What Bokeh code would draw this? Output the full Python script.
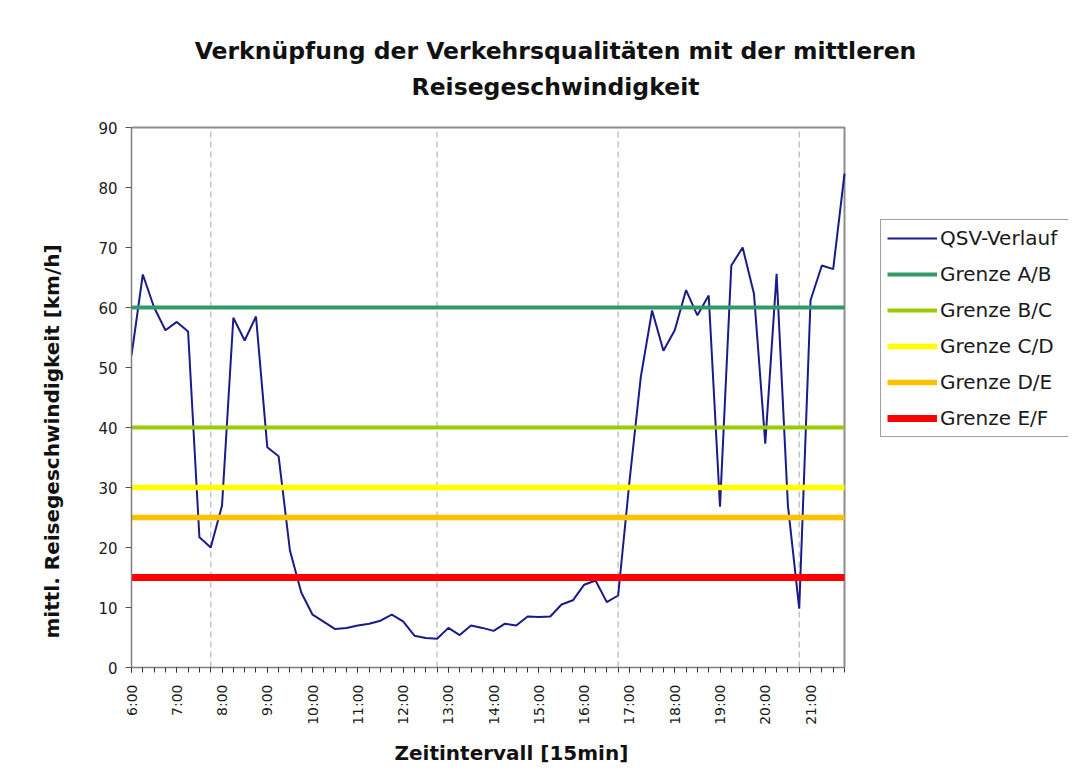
from math import pi
from bokeh.plotting import figure
from bokeh.models import Range1d, FixedTicker, Legend, LegendItem, Title
from bokeh.core.properties import value
from bokeh.embed import file_html
from bokeh.resources import INLINE

# ---------------- data ----------------
times = [f"{h}:{m:02d}" for h in range(6, 22) for m in (0, 15, 30, 45)]

speed = [52.0, 65.5, 60.0, 56.2, 57.6, 56.0, 21.7, 20.0,
         27.0, 58.3, 54.5, 58.5, 36.7, 35.2, 19.5, 12.5,
         8.8, 7.6, 6.4, 6.6, 7.0, 7.3, 7.8, 8.8,
         7.7, 5.3, 4.9, 4.8, 6.6, 5.4, 7.0, 6.6,
         6.1, 7.3, 7.0, 8.5, 8.4, 8.5, 10.5, 11.2,
         13.8, 14.5, 10.9, 12.0, 31.0, 48.4, 59.5, 52.8,
         56.2, 62.9, 58.7, 62.0, 26.8, 67.0, 70.0, 62.3,
         37.3, 65.6, 27.0, 9.8, 61.2, 67.0, 66.4, 82.3]

series_name = "QSV-Verlauf"
series_color = "#1a1a8a"
threshold_names = ["Grenze A/B", "Grenze B/C", "Grenze C/D", "Grenze D/E", "Grenze E/F"]
threshold_values = [60, 40, 30, 25, 15]
threshold_colors = ["#339966", "#99cc00", "#ffff00", "#ffc000", "#ff0000"]
threshold_widths = [4, 4, 5.5, 5.5, 7]

hour_labels = ["6:00", "7:00", "8:00", "9:00", "10:00", "11:00", "12:00", "13:00",
               "14:00", "15:00", "16:00", "17:00", "18:00", "19:00", "20:00", "21:00"]
marker_times = ["7:45", "12:45", "16:45", "20:45"]
y_ticks = [0, 10, 20, 30, 40, 50, 60, 70, 80, 90]
y_max = 90

title_lines = ["Verknüpfung der Verkehrsqualitäten mit der mittleren", "Reisegeschwindigkeit"]
x_title = "Zeitintervall [15min]"
y_title = "mittl. Reisegeschwindigkeit [km/h]"


def to_hours(t):
    h, m = t.split(":")
    return int(h) + int(m) / 60.0


x = [to_hours(t) for t in times]
hour_pos = [to_hours(t) for t in hour_labels]

FONT = "DejaVu Sans"

# ---------------- pixel geometry (layout only) ----------------
W, H = 1072, 776
PLOT_L, PLOT_R, PLOT_T, PLOT_B = 131, 844, 127, 667   # drawing area of the chart
FRAME_R = 1068                                         # frame also hosts the legend
px_per_x = (PLOT_R - PLOT_L) / (x[-1] - x[0])
px_per_y = (PLOT_B - PLOT_T) / y_max
x_end = x[0] + (FRAME_R - PLOT_L) / px_per_x
y_end = y_max + PLOT_T / px_per_y


def sx_to_x(sx):
    return x[0] + (sx - PLOT_L) / px_per_x


def sy_to_y(sy):
    return (PLOT_B - sy) / px_per_y


p = figure(width=W, height=H, output_backend="svg", toolbar_location=None,
           x_range=Range1d(x[0], x_end), y_range=Range1d(0, y_end),
           min_border_left=PLOT_L, min_border_right=W - FRAME_R, min_border_top=0,
           min_border_bottom=H - PLOT_B, background_fill_color="white",
           border_fill_color="white", outline_line_color=None)

p.xgrid.visible = False
p.ygrid.visible = False

# vertical dashed markers (only inside the chart area)
for t in marker_times:
    p.segment(x0=[to_hours(t)], y0=[0], x1=[to_hours(t)], y1=[y_max], line_color="#c4c4c4",
              line_width=1.5, line_dash="6 4")

# chart border (top and right)
p.line([x[0], x[-1], x[-1]], [y_max, y_max, 0], line_color="#8c8c8c", line_width=2)

r_main = p.line(x, speed, line_color=series_color, line_width=2)
renderers = [(series_name, r_main)]
for name, v, c, w in zip(threshold_names, threshold_values, threshold_colors, threshold_widths):
    r = p.line([x[0], x[-1]], [v, v], line_color=c, line_width=w)
    renderers.append((name, r))

legend = Legend(items=[LegendItem(label=n, renderers=[r]) for n, r in renderers],
                location=(880 - PLOT_L, PLOT_B - 437), margin=0, padding=6, spacing=12,
                glyph_width=50, glyph_height=20, label_height=20, label_standoff=3,
                label_width=140,
                label_text_font=FONT, label_text_font_size="20px",
                label_text_color="#1a1a1a",
                border_line_color="#404040", border_line_width=1,
                background_fill_color="white", background_fill_alpha=1.0)
p.add_layout(legend)

# axes
xa = p.xaxis[0]
xa.bounds = (x[0], x[-1])
xa.ticker = FixedTicker(ticks=hour_pos, minor_ticks=x)
xa.major_label_overrides = {hp: lab for hp, lab in zip(hour_pos, hour_labels)}
xa.major_label_orientation = pi / 2
xa.major_label_text_font = FONT
xa.major_label_text_font_size = "14px"
xa.major_label_text_color = "#1a1a1a"
xa.major_label_standoff = 12
xa.major_tick_out = 5
xa.major_tick_in = 0
xa.minor_tick_out = 5
xa.minor_tick_in = 0
xa.axis_line_color = "#7f7f7f"
xa.axis_line_width = 1.5
xa.major_tick_line_color = "#333333"
xa.minor_tick_line_color = "#333333"

ya = p.yaxis[0]
ya.bounds = (0, y_max)
ya.ticker = FixedTicker(ticks=y_ticks, minor_ticks=[])
ya.major_label_text_font = FONT
ya.major_label_text_font_size = "15px"
ya.major_label_text_color = "#1a1a1a"
ya.major_label_standoff = 8
ya.major_tick_out = 6
ya.major_tick_in = 0
ya.axis_line_color = "#7f7f7f"
ya.axis_line_width = 1.5
ya.major_tick_line_color = "#555555"

# chart title (two centred lines)
p.text(x=[sx_to_x(555), sx_to_x(555)], y=[sy_to_y(50), sy_to_y(86)], text=title_lines,
       text_align="center", text_baseline="middle", text_font=value(FONT),
       text_font_size="23.5px", text_font_style="bold", text_color="#111111")

# axis titles
p.add_layout(Title(text=x_title, align="left", offset=263, standoff=23,
                   text_font=FONT, text_font_size="20px", text_font_style="bold",
                   text_color="#111111"), "below")
p.add_layout(Title(text=y_title, align="left", offset=29, standoff=64,
                   text_font=FONT, text_font_size="20px", text_font_style="bold",
                   text_color="#111111"), "left")

open("out.html", "w").write(file_html(p, INLINE))
